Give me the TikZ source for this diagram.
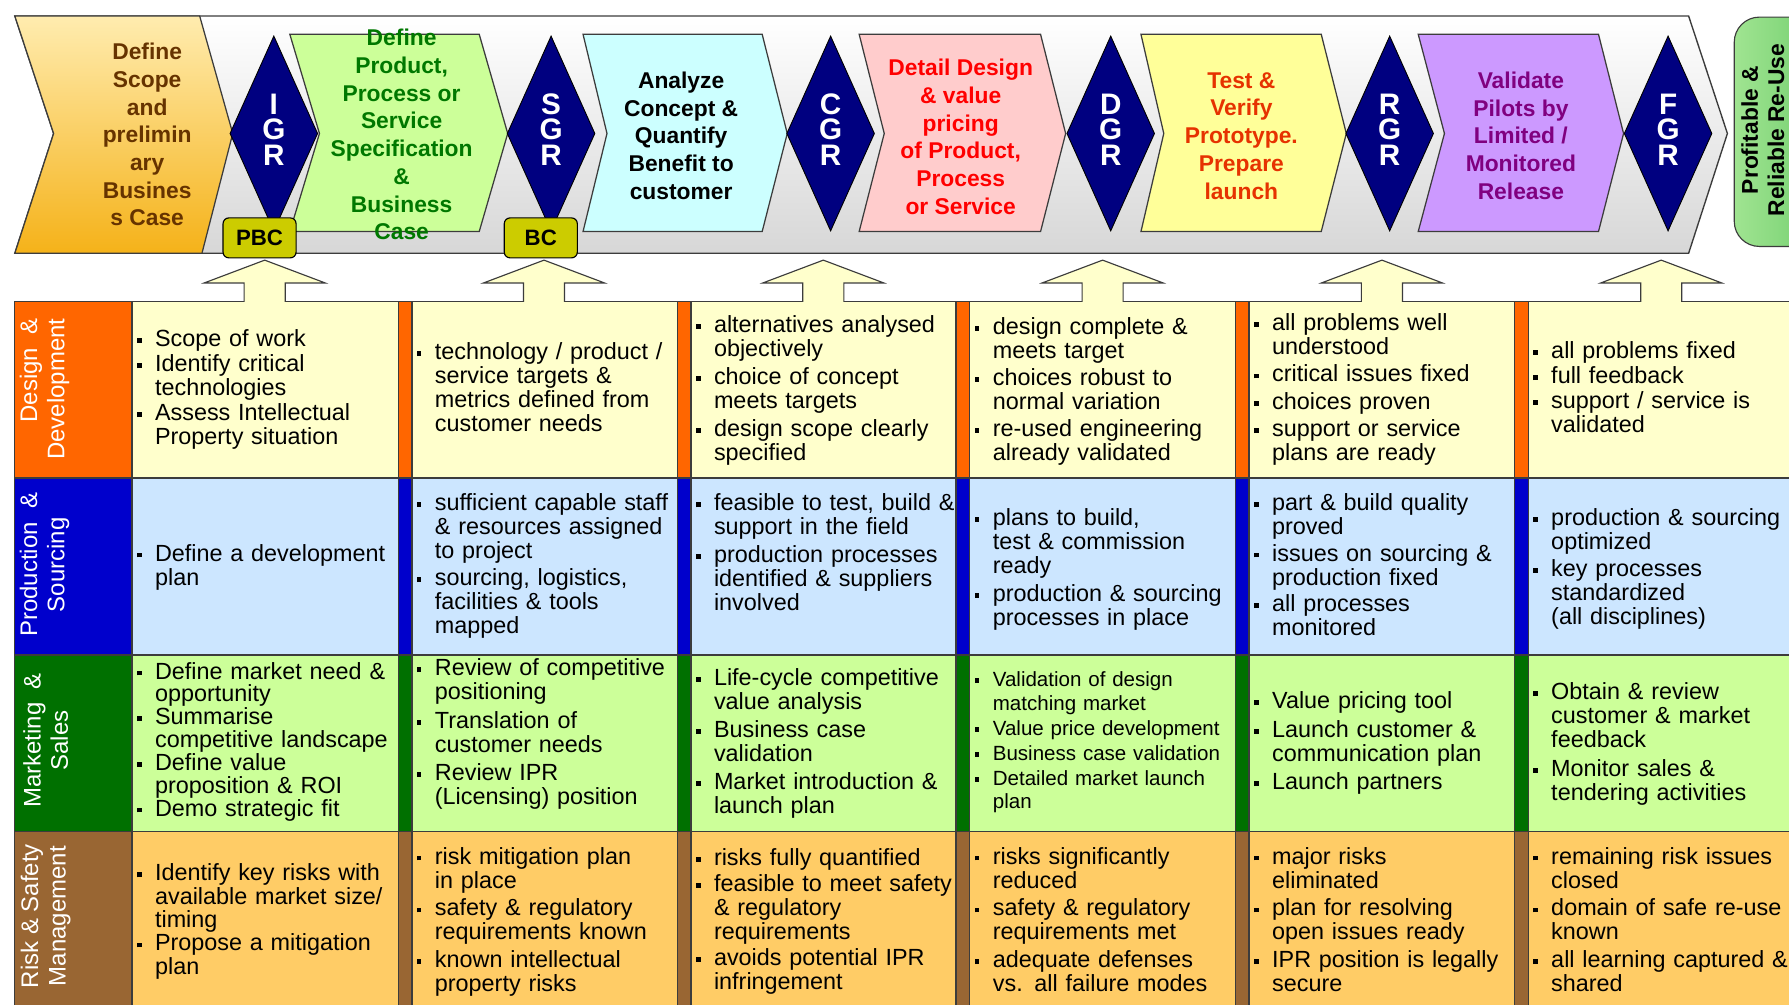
\documentclass[tikz,border=0pt]{standalone}
\usepackage{fontspec}
\setmainfont{Liberation Sans}
\usetikzlibrary{shapes.geometric}
\definecolor{lineclr}{RGB}{60,60,60}
\definecolor{bandbot}{RGB}{215,215,215}
\definecolor{scopetop}{RGB}{255,236,175}
\definecolor{scopebot}{RGB}{245,178,25}
\definecolor{scopetxt}{RGB}{102,51,0}
\definecolor{specfill}{RGB}{204,255,153}
\definecolor{spectxt}{RGB}{0,120,0}
\definecolor{concfill}{RGB}{204,255,255}
\definecolor{detfill}{RGB}{255,204,204}
\definecolor{testfill}{RGB}{255,255,153}
\definecolor{testtxt}{RGB}{230,50,0}
\definecolor{valfill}{RGB}{204,153,255}
\definecolor{valtxt}{RGB}{128,0,128}
\definecolor{gatefill}{RGB}{0,0,128}
\definecolor{tagfill}{RGB}{204,204,0}
\definecolor{arrowfill}{RGB}{255,255,204}
\definecolor{pilllight}{RGB}{160,228,145}
\definecolor{pilldark}{RGB}{100,200,100}
\definecolor{ddhead}{RGB}{255,102,0}
\definecolor{pshead}{RGB}{0,0,204}
\definecolor{mshead}{RGB}{0,112,0}
\definecolor{rshead}{RGB}{153,102,51}
\definecolor{ddcell}{RGB}{255,255,204}
\definecolor{pscell}{RGB}{204,230,255}
\definecolor{mscell}{RGB}{204,255,153}
\definecolor{rscell}{RGB}{255,204,102}
\newcommand\itm{\par\leftskip=16pt\rightskip=0pt plus 1fil\noindent\llap{\makebox[16pt][l]{\rule[3.2pt]{4.2pt}{4.2pt}}}\strut}
\newcommand\cellfont{\fontsize{20.5}{21}\selectfont\lineskiplimit=-100pt\relax}
\newcommand\cellfontB{\fontsize{20.5}{20}\selectfont\lineskiplimit=-100pt\relax}
\newcommand\cellfontC{\fontsize{18}{20.5}\selectfont\lineskiplimit=-100pt\relax}
\newcommand\cellfontD{\fontsize{20.5}{20.3}\selectfont\lineskiplimit=-100pt\relax}
\newcommand\gatefont{\fontsize{26}{22.5}\selectfont\bfseries\lineskiplimit=-100pt\relax}
\newcommand\stagepoly[5]{\path[stageshape,fill=#5] (#1,30) -- (#2,30) -- ++(#3,87) -- (#2,203) -- (#1,203) -- ++(#4,-86) -- cycle;}
\begin{document}
\begin{tikzpicture}[x=1pt,y=-1pt,
  stageshape/.style={draw=lineclr, line width=1.1pt},
  stagetxt/.style={align=center, inner sep=0pt, font=\fontsize{20}{24.3}\selectfont\bfseries},
  gateshape/.style={diamond, draw=black, fill=gatefill, line width=0.8pt, minimum width=77pt, minimum height=171pt, inner sep=0pt},
  gatetxt/.style={align=center, inner sep=0pt, text=white, font=\gatefont},
  gatetag/.style={draw=black, fill=tagfill, rounded corners=5pt, minimum width=64pt, minimum height=35pt, inner sep=0pt, line width=1pt, font=\fontsize{19.5}{20}\selectfont\bfseries},
  hdrtxt/.style={rotate=90, inner sep=0pt, text=white, font=\fontsize{21}{24}\selectfont},
  celltext/.style={anchor=north west, inner sep=0pt, text width=236pt, font={\cellfont\setlength{\parskip}{#1}}},
  celltext/.default=2pt,
  tabline/.style={draw=lineclr, line width=1.1pt},
  arrowline/.style={draw=lineclr, line width=1pt}
]
\useasboundingbox (0,0) rectangle (1568,880);
\fill[white] (0,0) rectangle (1568,880);

% ---------- banner ----------
\path[draw=lineclr, line width=1.2pt, top color=white, bottom color=bandbot]
  (13,14) -- (1480,14) -- (1514,117) -- (1480,222) -- (13,222) -- (47,117) -- cycle;
\path[draw=lineclr, line width=1.1pt, top color=scopetop, bottom color=scopebot]
  (13,14) -- (175,14) -- (204,117) -- (177,222) -- (13,222) -- (47,117) -- cycle;
\node[stagetxt, text=scopetxt] (tScope) at (129,118) {Define\\Scope\\and\\prelimin\\ary\\Busines\\s Case};

\stagepoly{254}{420}{25}{26}{specfill}
\stagepoly{511}{668}{22}{21}{concfill}
\stagepoly{753}{912}{22}{22}{detfill}
\stagepoly{1000}{1158}{22}{20}{testfill}
\stagepoly{1243}{1401}{22}{23}{valfill}

\node[stagetxt, text=spectxt] (tSpec) at (352,118) {Define\\Product,\\Process or\\Service\\Specification\\\&\\Business\\Case};
\node[stagetxt] (tConc) at (597,119) {Analyze\\Concept \&\\Quantify\\Benefit to\\customer};
\node[stagetxt, text=red] (tDet) at (842,120) {Detail Design\\\& value\\pricing\\of Product,\\Process\\or Service};
\node[stagetxt, text=testtxt] (tTest) at (1088,119) {Test \&\\Verify\\Prototype.\\Prepare\\launch};
\node[stagetxt, text=valtxt] (tVal) at (1333,119) {Validate\\Pilots by\\Limited /\\Monitored\\Release};

\foreach \nm/\cx/\la in {IGR/240/I, SGR/483/S, CGR/728/C, DGR/973.5/D, RGR/1218/R, FGR/1462/F} {
  \node[gateshape] (g\nm) at (\cx,117) {};
  \node[gatetxt] (l\nm) at (\cx,113.5) {\la\\G\\R};
}
\node[gatetag] (tagPBC) at (227.5,208.5) {PBC};
\node[gatetag] (tagBC) at (474,208.5) {BC};

\node[draw=lineclr, line width=1pt, left color=pilllight, right color=pilldark, rounded corners=22pt,
  minimum width=100pt, minimum height=201pt, inner sep=0pt] (pill) at (1570,115.5) {};
\node[rotate=90, align=center, inner sep=0pt, font=\fontsize{20}{23}\selectfont\bfseries] (pilltxt) at (1545,114) {Profitable \&\\Reliable Re-Use};

% ---------- table ----------
\fill[ddcell] (12.7,264.5) rectangle (1600,419);
\fill[pscell] (12.7,419) rectangle (1600,574);
\fill[mscell] (12.7,574) rectangle (1600,729);
\fill[rscell] (12.7,729) rectangle (1600,890);
\fill[ddhead] (12.7,264.5) rectangle (115.7,419);
\fill[pshead] (12.7,419) rectangle (115.7,574);
\fill[mshead] (12.7,574) rectangle (115.7,729);
\fill[rshead] (12.7,729) rectangle (115.7,890);
\foreach \s in {349,593.6,838,1082.8,1327.4} {
  \fill[ddhead] (\s,264.5) rectangle (\s+12,419);
  \fill[pshead] (\s,419) rectangle (\s+12,574);
  \fill[mshead] (\s,574) rectangle (\s+12,729);
  \fill[rshead] (\s,729) rectangle (\s+12,890);
  \draw[tabline] (\s,264.5) -- (\s,890);
  \draw[tabline] (\s+12,264.5) -- (\s+12,890);
}
\draw[tabline] (12.7,264.5) -- (12.7,890);
\draw[tabline] (115.7,264.5) -- (115.7,890);
\foreach \yy in {419,574,729} { \draw[tabline] (12.7,\yy) -- (1600,\yy); }
\foreach \xa/\xb in {12.7/214,250/458.8,494.8/703.6,739.6/948.4,984.4/1193.2,1229.2/1438,1474/1600} {
  \draw[tabline] (\xa,264.5) -- (\xb,264.5);
}
% up arrows
\foreach \cx in {232,476.8,721.6,966.4,1211.2,1456} {
  \fill[arrowfill] (\cx-18,266) -- (\cx-18,248) -- (\cx-53,248) -- (\cx,228) -- (\cx+53,248) -- (\cx+18,248) -- (\cx+18,266) -- cycle;
  \draw[arrowline] (\cx-18,264.5) -- (\cx-18,248) -- (\cx-53,248) -- (\cx,228) -- (\cx+53,248) -- (\cx+18,248) -- (\cx+18,264.5);
}

% row headers
\node[hdrtxt, align=right] (hDD) at (39,341) {Design~~\&\\Development};
\node[hdrtxt, align=center] (hPS) at (39,495) {Production~~\&\\Sourcing};
\node[hdrtxt, align=center] (hMS) at (40,649) {Marketing~~\&\\Sales};
\node[hdrtxt, align=center] (hRS) at (40,803) {Risk \& Safety\\Management};

% row 1
\node[celltext=1pt] (c11) at (119.7,281.6) {\itm Scope of work \itm Identify critical\\technologies \itm Assess Intellectual\\Property situation\par};
\node[celltext] (c12) at (365,292.1) {\itm technology / product /\\service targets \&\\metrics defined from\\customer needs\par};
\node[celltext=3.5pt] (c13) at (609.6,266.6) {\itm alternatives analysed\\objectively \itm choice of concept\\meets targets \itm design scope clearly\\specified\par};
\node[celltext=2.5pt] (c14) at (854,269.6) {\itm design complete \&\\meets target \itm choices robust to\\normal variation \itm re-used engineering\\already validated\par};
\node[celltext=3pt] (c15) at (1098.8,265.6) {\itm all problems well\\understood \itm critical issues fixed \itm choices proven \itm support or service\\plans are ready\par};
\node[celltext=1pt] (c16) at (1343.4,292.1) {\itm all problems fixed \itm full feedback \itm support / service is\\validated\par};
% row 2
\node[celltext] (c21) at (119.7,468.6) {\itm Define a development\\plan\par};
\node[celltext=3pt] (c22) at (365,423.1) {\itm sufficient capable staff\\\& resources assigned\\to project \itm sourcing, logistics,\\facilities \& tools\\mapped\par};
\node[celltext=3pt] (c23) at (609.6,423.6) {\itm feasible to test, build \&\\support in the field \itm production processes\\identified \& suppliers\\involved\par};
\node[celltext=4pt] (c24) at (854,435.1) {\itm plans to build,\\test \& commission\\ready \itm production \& sourcing\\processes in place\par};
\node[celltext=2.5pt] (c25) at (1098.8,423.6) {\itm part \& build quality\\proved \itm issues on sourcing \&\\production fixed \itm all processes\\monitored\par};
\node[celltext=3pt] (c26) at (1343.4,436.1) {\itm production \& sourcing\\optimized \itm key processes\\standardized\\(all disciplines)\par};
% row 3
\node[celltext, font={\cellfontB\setlength{\parskip}{0pt}}] (c31) at (119.7,575) {\itm Define market need \&\\opportunity \itm Summarise\\competitive landscape \itm Define value\\proposition \& ROI \itm Demo strategic fit\par};
\node[celltext=4pt] (c32) at (365,567) {\itm Review of competitive\\positioning \itm Translation of\\customer needs \itm Review IPR\\(Licensing) position\par};
\node[celltext=3.5pt] (c33) at (609.6,576.1) {\itm Life-cycle competitive\\value analysis \itm Business case\\validation \itm Market introduction \&\\launch plan\par};
\node[celltext, font={\cellfontC\setlength{\parskip}{1.5pt}}] (c34) at (854,579.8) {\itm Validation of design\\matching market \itm Value price development \itm Business case validation \itm Detailed market launch\\plan\par};
\node[celltext=4pt] (c35) at (1098.8,596.1) {\itm Value pricing tool \itm Launch customer \&\\communication plan \itm Launch partners\par};
\node[celltext=4pt] (c36) at (1343.4,588.1) {\itm Obtain \& review\\customer \& market\\feedback \itm Monitor sales \&\\tendering activities\par};
% row 4
\node[celltext, font={\cellfontD\setlength{\parskip}{0.5pt}}] (c41) at (119.7,751.1) {\itm Identify key risks with\\available market size/\\timing \itm Propose a mitigation\\plan\par};
\node[celltext=3.5pt] (c42) at (365,732.6) {\itm risk mitigation plan\\in place \itm safety \& regulatory\\requirements known \itm known intellectual\\property risks\par};
\node[celltext=2pt] (c43) at (609.6,735.1) {\itm risks fully quantified \itm feasible to meet safety\\\& regulatory\\requirements \itm avoids potential IPR\\infringement\par};
\node[celltext=3.5pt] (c44) at (854,732.6) {\itm risks significantly\\reduced \itm safety \& regulatory\\requirements met \itm adequate defenses\\vs. all failure modes\par};
\node[celltext=3.5pt] (c45) at (1098.8,732.6) {\itm major risks\\eliminated \itm plan for resolving\\open issues ready \itm IPR position is legally\\secure\par};
\node[celltext=3.5pt] (c46) at (1343.4,732.6) {\itm remaining risk issues\\closed \itm domain of safe re-use\\known \itm all learning captured \&\\shared\par};
\end{tikzpicture}
\end{document}
